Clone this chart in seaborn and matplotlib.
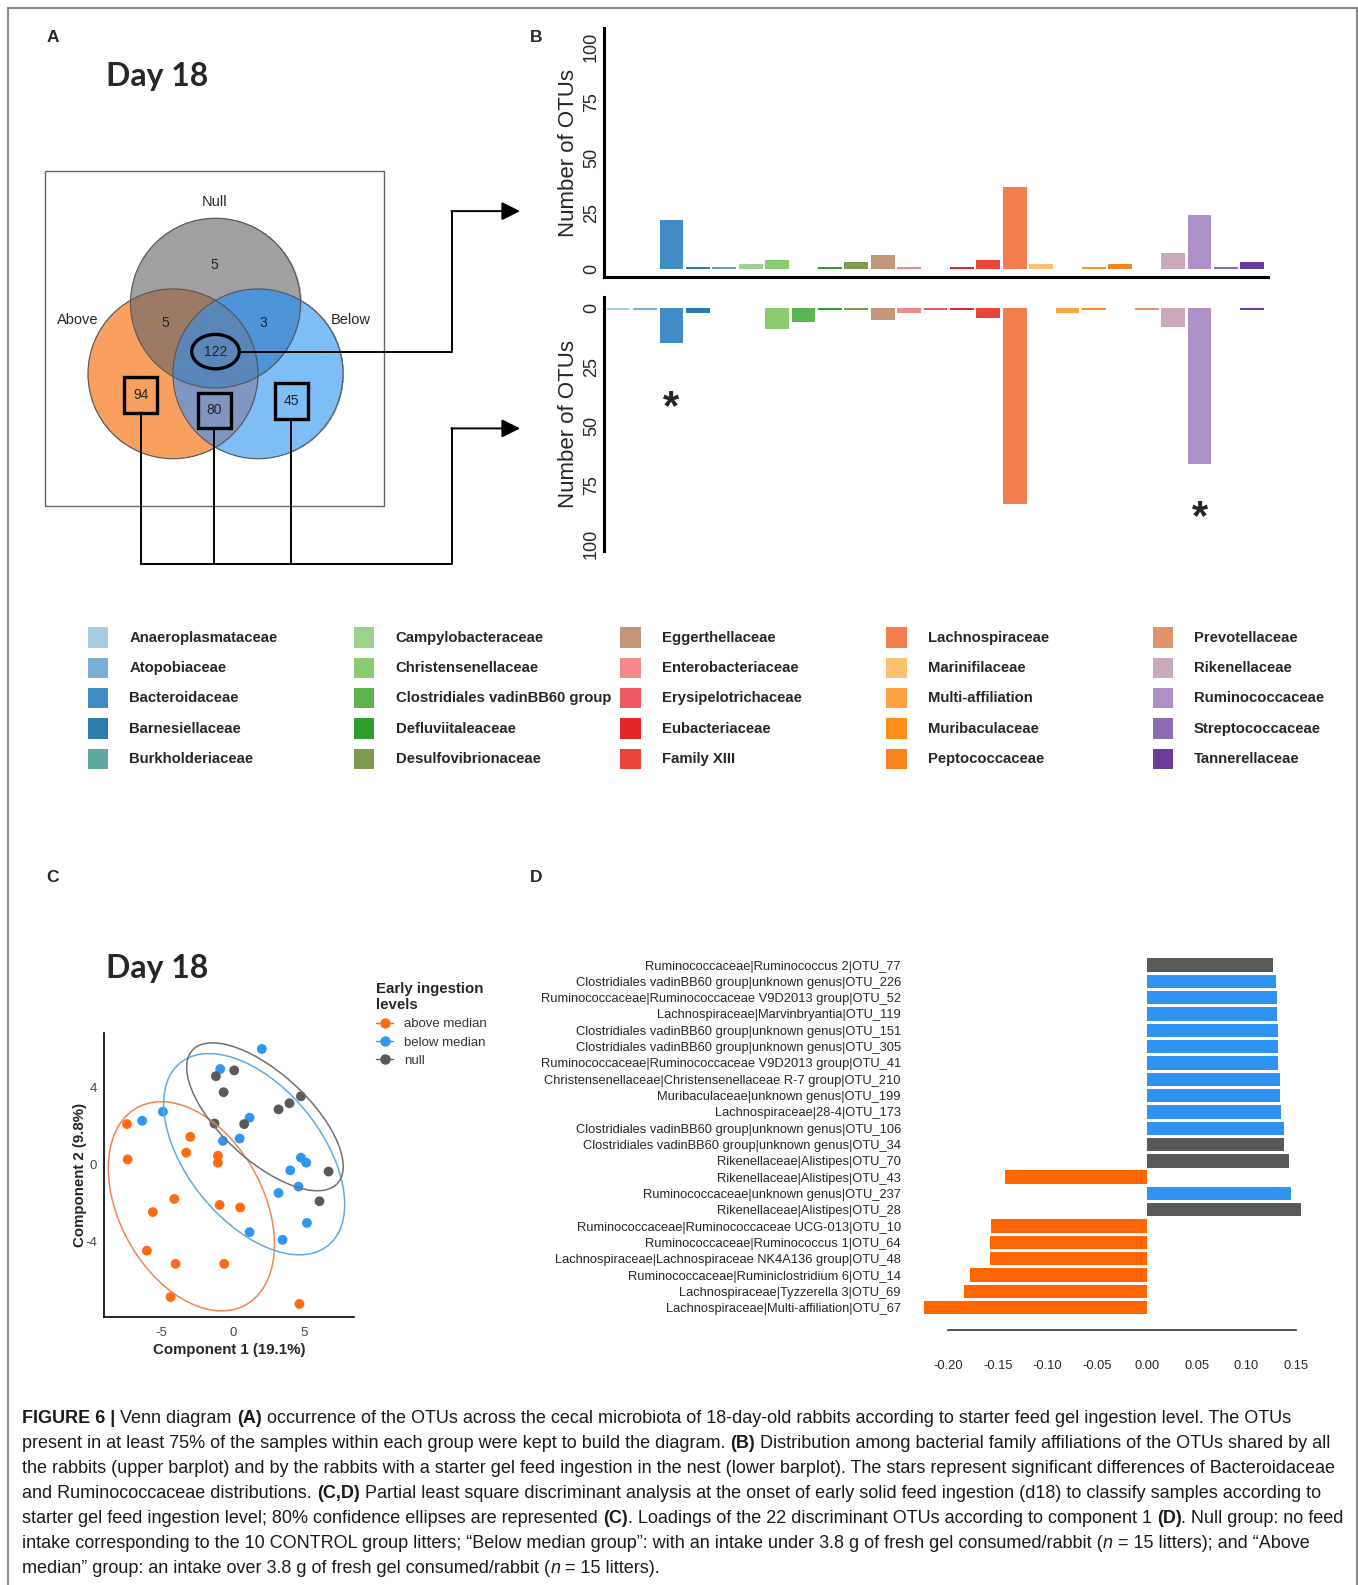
import matplotlib
matplotlib.use("Agg")
import matplotlib.pyplot as plt
from matplotlib.patches import Circle, Ellipse, Rectangle
from matplotlib.lines import Line2D
import numpy as np
import pandas as pd
import seaborn as sns

W, H = 1358, 1585

# ---------------- data ----------------
# panel A (Venn counts)
venn_regions = ["null", "null_above", "null_below", "all", "above", "above_below", "below"]
venn_counts = [5, 5, 3, 122, 94, 80, 45]

# panel B (families, colours, OTU counts)
families = ["Anaeroplasmataceae", "Atopobiaceae", "Bacteroidaceae", "Barnesiellaceae",
            "Burkholderiaceae", "Campylobacteraceae", "Christensenellaceae",
            "Clostridiales vadinBB60 group", "Defluviitaleaceae", "Desulfovibrionaceae",
            "Eggerthellaceae", "Enterobacteriaceae", "Erysipelotrichaceae", "Eubacteriaceae",
            "Family XIII", "Lachnospiraceae", "Marinifilaceae", "Multi-affiliation",
            "Muribaculaceae", "Peptococcaceae", "Prevotellaceae", "Rikenellaceae",
            "Ruminococcaceae", "Streptococcaceae", "Tannerellaceae"]
family_colors = ["#A6CEE3", "#7BAFD6", "#418CC4", "#2D7CB0", "#5FA8A0", "#9ED08E", "#8ACB6F",
                 "#5BB451", "#2E9E2C", "#7D9A4F", "#C3967A", "#F4898B", "#EC5A60", "#E3262A",
                 "#E8453B", "#F27D4F", "#FDBF70", "#FCA443", "#FD8D1D", "#F5841F", "#E3936A",
                 "#CDA8BC", "#AF8FC7", "#8E6BB4", "#6A3D9A"]
shared_all = [0, 0, 22, 1, 1, 2, 4, 0, 1, 3, 6, 1, 0, 1, 4, 37, 2, 0, 1, 2, 0, 7, 24, 1, 3]
shared_fed = [1, 1, 15, 2, 0, 0, 9, 6, 1, 1, 5, 2, 1, 1, 4, 83, 0, 2, 1, 0, 1, 8, 66, 0, 1]
star_families = ["Bacteroidaceae", "Ruminococcaceae"]
star_y = [37, 84]

# panel C (PLS-DA scores)
above_x = [-7.43, -7.38, -2.99, -3.27, -1.05, -1.05, -4.11, -5.61, -0.93, 0.51, -6.03, -4.02, -0.61, -4.37, 4.67]
above_y = [2.09, 0.26, 1.43, 0.61, 0.45, 0.09, -1.79, -2.47, -2.10, -2.23, -4.47, -5.15, -5.15, -6.87, -7.23]
below_x = [2.03, -0.89, -4.91, -6.36, 1.17, -0.70, 0.47, 4.77, 5.14, 4.02, 4.60, 3.20, 5.19, 1.17, 3.48]
below_y = [5.98, 4.94, 2.73, 2.26, 2.42, 1.22, 1.34, 0.35, 0.09, -0.31, -1.15, -1.48, -3.03, -3.51, -3.91]
null_x = [-1.19, 0.09, -0.65, -1.29, 0.79, 3.20, 3.97, 4.77, 6.71, 6.07]
null_y = [4.57, 4.87, 3.74, 2.12, 2.09, 2.85, 3.17, 3.53, -0.37, -1.91]
group_names = ["above median", "below median", "null"]
group_colors = ["#FF6A13", "#2F97F2", "#5A5A5A"]
ellipse_colors = ["#EE8650", "#5FAAE6", "#707070"]

# panel D (loadings on component 1)
otu_labels = ["Ruminococcaceae|Ruminococcus 2|OTU_77",
              "Clostridiales vadinBB60 group|unknown genus|OTU_226",
              "Ruminococcaceae|Ruminococcaceae V9D2013 group|OTU_52",
              "Lachnospiraceae|Marvinbryantia|OTU_119",
              "Clostridiales vadinBB60 group|unknown genus|OTU_151",
              "Clostridiales vadinBB60 group|unknown genus|OTU_305",
              "Ruminococcaceae|Ruminococcaceae V9D2013 group|OTU_41",
              "Christensenellaceae|Christensenellaceae R-7 group|OTU_210",
              "Muribaculaceae|unknown genus|OTU_199",
              "Lachnospiraceae|28-4|OTU_173",
              "Clostridiales vadinBB60 group|unknown genus|OTU_106",
              "Clostridiales vadinBB60 group|unknown genus|OTU_34",
              "Rikenellaceae|Alistipes|OTU_70",
              "Rikenellaceae|Alistipes|OTU_43",
              "Ruminococcaceae|unknown genus|OTU_237",
              "Rikenellaceae|Alistipes|OTU_28",
              "Ruminococcaceae|Ruminococcaceae UCG-013|OTU_10",
              "Ruminococcaceae|Ruminococcus 1|OTU_64",
              "Lachnospiraceae|Lachnospiraceae NK4A136 group|OTU_48",
              "Ruminococcaceae|Ruminiclostridium 6|OTU_14",
              "Lachnospiraceae|Tyzzerella 3|OTU_69",
              "Lachnospiraceae|Multi-affiliation|OTU_67"]
loadings = [0.127, 0.130, 0.131, 0.131, 0.132, 0.132, 0.132, 0.134, 0.134, 0.135, 0.138,
            0.138, 0.143, -0.143, 0.145, 0.155, -0.157, -0.158, -0.158, -0.178, -0.184, -0.224]
otu_group = ["null", "below", "below", "below", "below", "below", "below", "below", "below",
             "below", "below", "null", "null", "above", "below", "null", "above", "above",
             "above", "above", "above", "above"]
load_colors = {"above": "#FF6600", "below": "#2F93F3", "null": "#595959"}
load_ticks = [-0.20, -0.15, -0.10, -0.05, 0.00, 0.05, 0.10, 0.15]

caption = [
    [("FIGURE 6 |", "b"), (" Venn diagram ", "n"), ("(A)", "b"),
     (" occurrence of the OTUs across the cecal microbiota of 18-day-old rabbits according to starter feed gel ingestion level. The OTUs", "n")],
    [("present in at least 75% of the samples within each group were kept to build the diagram. ", "n"), ("(B)", "b"),
     (" Distribution among bacterial family affiliations of the OTUs shared by all", "n")],
    [("the rabbits (upper barplot) and by the rabbits with a starter gel feed ingestion in the nest (lower barplot). The stars represent significant differences of Bacteroidaceae", "n")],
    [("and Ruminococcaceae distributions. ", "n"), ("(C,D)", "b"),
     (" Partial least square discriminant analysis at the onset of early solid feed ingestion (d18) to classify samples according to", "n")],
    [("starter gel feed ingestion level; 80% confidence ellipses are represented ", "n"), ("(C)", "b"),
     (". Loadings of the 22 discriminant OTUs according to component 1 ", "n"), ("(D)", "b"), (". Null group: no feed", "n")],
    [("intake corresponding to the 10 CONTROL group litters; \u201cBelow median group\u201d: with an intake under 3.8 g of fresh gel consumed/rabbit (", "n"),
     ("n", "i"), (" = 15 litters); and \u201cAbove", "n")],
    [("median\u201d group: an intake over 3.8 g of fresh gel consumed/rabbit (", "n"), ("n", "i"), (" = 15 litters).", "n")],
]

# layout units are slightly shrunk relative to output pixels
SX, SY = 1.012, 1.0106


def fx(p):
    return 8 + (p - 8) * SX


def fy(p):
    return 8 + (p - 8) * SY


def px_axes(fig, x0, y0, x1, y1):
    # axes from a layout box (top-left origin)
    X0, Y0, X1, Y1 = fx(x0), fy(y0), fx(x1), fy(y1)
    ax = fig.add_axes([X0 / W, 1 - Y1 / H, (X1 - X0) / W, (Y1 - Y0) / H])
    ax.patch.set_alpha(0)
    return ax


sns.set_style("white")
plt.rcParams['font.family'] = ['Liberation Sans', 'DejaVu Sans']
plt.rcParams['axes.unicode_minus'] = False

fig = plt.figure(figsize=(W / 100, H / 100), dpi=100)
bg = fig.add_axes([0, 0, 1, 1])
bg.axis('off')

# frame
bg.plot([8, 8], [8, 1600], color='#888888', lw=1.5)
bg.plot([1341, 1341], [8, 1600], color='#888888', lw=1.5)
bg.plot([8, 1341], [8, 8], color='#888888', lw=1.5)

for letter, (lx, ly) in zip("ABCD", [(52, 37), (530, 37), (52, 868), (530, 868)]):
    bg.text(lx, ly, letter, fontsize=12.5, fontweight='bold', ha='center', va='center')
for dy in [76, 958]:
    bg.text(155, dy, "Day 18", family=['Lato', 'DejaVu Sans'], fontweight='bold', fontsize=23,
            ha='center', va='center')

# ---------------- panel A : Venn ----------------
r = 84
cn, ca, cb = (213, 300), (171, 370), (255, 370)
xs = np.arange(80, 345) + 0.5
ys = np.arange(210, 460) + 0.5
XX, YY = np.meshgrid(xs, ys)
inN = (XX - cn[0]) ** 2 + (YY - cn[1]) ** 2 <= r ** 2
inA = (XX - ca[0]) ** 2 + (YY - ca[1]) ** 2 <= r ** 2
inB = (XX - cb[0]) ** 2 + (YY - cb[1]) ** 2 <= r ** 2
region_masks = {
    "null": inN & ~inA & ~inB, "null_above": inN & inA & ~inB, "null_below": inN & inB & ~inA,
    "all": inN & inA & inB, "above": inA & ~inN & ~inB, "above_below": inA & inB & ~inN,
    "below": inB & ~inN & ~inA}
region_colors = {"null": "#A0A0A0", "null_above": "#9C7A66", "null_below": "#4F94D8",
                 "all": "#5B86B9", "above": "#F9A060", "above_below": "#8097C0", "below": "#7EBEF6"}
img = np.zeros(XX.shape + (4,))
for reg in venn_regions:
    img[region_masks[reg]] = matplotlib.colors.to_rgba(region_colors[reg])
bg.imshow(img, extent=(80, 345, 460, 210), aspect='auto', interpolation='bilinear', zorder=1)
for c in [cn, ca, cb]:
    bg.add_patch(Circle(c, r, fill=False, ec='#555555', lw=0.8, zorder=2))
bg.add_patch(Rectangle((45, 169), 335, 332, fill=False, ec='#666666', lw=1.0, zorder=2))

bg.text(212, 200, "Null", fontsize=10.5, ha='center', va='center', zorder=3)
bg.text(77, 317, "Above", fontsize=10.5, ha='center', va='center', zorder=3)
bg.text(347, 317, "Below", fontsize=10.5, ha='center', va='center', zorder=3)
num_pos = {"null": (212, 262), "null_above": (163, 320), "null_below": (260, 320),
           "all": (213, 348), "above": (139, 391), "above_below": (212, 406), "below": (288, 397)}
for reg, cnt in zip(venn_regions, venn_counts):
    bg.text(*num_pos[reg], str(cnt), fontsize=10, ha='center', va='center', color='#222222', zorder=4)
bg.add_patch(Ellipse(num_pos["all"], 47, 34, fill=False, ec='black', lw=2.4, zorder=4))
boxed = ["above", "above_below", "below"]
for reg in boxed:
    px, py = num_pos[reg]
    bg.add_patch(Rectangle((px - 16.5, py - 17.5), 33, 35, fill=False, ec='black', lw=2.4, zorder=4))

# connectors
lk = dict(color='black', lw=1.4, zorder=4)
bg.plot([236, 447, 447], [348, 348, 209], **lk)
for reg in boxed:
    px, py = num_pos[reg]
    bg.plot([px, px], [py + 17.5, 558], **lk)
bg.plot([139, 447, 447], [558, 558, 424], **lk)
for ay in [209, 424]:
    bg.annotate('', xy=(514, ay), xytext=(446, ay),
                arrowprops=dict(arrowstyle='-|>', mutation_scale=28, color='black', lw=1.4,
                                shrinkA=0, shrinkB=0), zorder=4)

# ---------------- panel B : bar plots ----------------
df_b = pd.DataFrame({"family": families, "all": shared_all, "fed": shared_fed})
pal = dict(zip(families, family_colors))

ax_t = px_axes(fig, 597, 28, 1253, 274)
sns.barplot(data=df_b, x="family", y="all", hue="family", order=families, hue_order=families,
            palette=pal, saturation=1, width=0.9, linewidth=0, legend=False, ax=ax_t)
ax_b = px_axes(fig, 597, 294, 1253, 545)
sns.barplot(data=df_b, x="family", y="fed", hue="family", order=families, hue_order=families,
            palette=pal, saturation=1, width=0.9, linewidth=0, legend=False, ax=ax_b)

for ax, ylim in [(ax_t, (-3.6, 108.2)), (ax_b, (103, -4.7))]:
    ax.set_xlim(-0.55, 24.59)
    ax.set_ylim(*ylim)
    ax.set_xticks([])
    ax.set_xlabel('')
    ax.set_yticks([0, 25, 50, 75, 100])
    ax.set_yticklabels(['0', '25', '50', '75', '100'], rotation=90, va='center', fontsize=13)
    ax.tick_params(axis='y', length=0, pad=3)
    ax.set_ylabel('Number of OTUs', fontsize=16)
    ax.yaxis.set_label_coords(-0.038, 0.5)
    for s in ['top', 'right']:
        ax.spines[s].set_visible(False)
    ax.spines['left'].set_linewidth(2.2)
    ax.spines['left'].set_color('black')
ax_t.spines['bottom'].set_linewidth(2.2)
ax_t.spines['bottom'].set_color('black')
ax_b.spines['bottom'].set_visible(False)
for fam, sy in zip(star_families, star_y):
    ax_b.annotate('*', xy=(families.index(fam), sy), xytext=(0, -17), textcoords='offset points',
                  fontsize=30, fontweight='bold', ha='center', va='baseline')

# family legend
for i, (fam, col) in enumerate(zip(families, family_colors)):
    lx = 87 + 263 * (i // 5)
    ly = 631 + 30 * (i % 5)
    bg.add_patch(Rectangle((lx, ly - 10), 20, 20, color=col, lw=0))
    bg.text(lx + 41, ly, fam, fontsize=10.7, fontweight='bold', ha='left', va='center')

# ---------------- panel C : PLS-DA scores ----------------
df_c = pd.DataFrame({
    "comp1": above_x + below_x + null_x,
    "comp2": above_y + below_y + null_y,
    "group": [group_names[0]] * len(above_x) + [group_names[1]] * len(below_x) + [group_names[2]] * len(null_x)})
ax_c = px_axes(fig, 103, 1022, 350, 1303)
sns.scatterplot(data=df_c, x="comp1", y="comp2", hue="group", hue_order=group_names,
                palette=dict(zip(group_names, group_colors)), s=50, linewidth=0, legend=False, ax=ax_c)
k = np.sqrt(-2 * np.log(1 - 0.8))
for g, ec in zip(group_names, ellipse_colors):
    sub = df_c[df_c.group == g][["comp1", "comp2"]].to_numpy()
    mu = sub.mean(axis=0)
    vals, vecs = np.linalg.eigh(np.cov(sub.T))
    ang = np.degrees(np.arctan2(vecs[1, 1], vecs[0, 1]))
    ax_c.add_patch(Ellipse(mu, 2 * k * np.sqrt(vals[1]), 2 * k * np.sqrt(vals[0]), angle=ang,
                           fill=False, ec=ec, lw=1.1))
ax_c.set_xlim(-9.03, 8.5)
ax_c.set_ylim(-7.89, 6.82)
ax_c.set_xticks([-5, 0, 5])
ax_c.set_yticks([-4, 0, 4])
ax_c.tick_params(length=3, width=0.8, labelsize=9.5, labelcolor='#444444', color='#444444', pad=2)
ax_c.tick_params(axis='x', pad=4.5)
for s in ['top', 'right']:
    ax_c.spines[s].set_visible(False)
for s in ['left', 'bottom']:
    ax_c.spines[s].set_color('black')
    ax_c.spines[s].set_linewidth(1.2)
ax_c.set_xlabel("Component 1 (19.1%)", fontsize=10.8, fontweight='bold', labelpad=3)
ax_c.set_ylabel("Component 2 (9.8%)", fontsize=10.8, fontweight='bold', labelpad=-1)
handles = [Line2D([0], [0], marker='o', color=c, lw=1, markersize=6.5) for c in group_colors]
leg = fig.legend(handles, group_names, loc='upper left', bbox_to_anchor=(fx(360) / W, 1 - fy(960) / H),
                 frameon=False, fontsize=9.5, handlelength=1.3, labelspacing=0.45,
                 title="Early ingestion\nlevels", alignment='left',
                 title_fontproperties={'weight': 'bold', 'size': 10.8})
for t in leg.get_texts():
    t.set_color('#333333')

# ---------------- panel D : loadings ----------------
df_d = pd.DataFrame({"otu": otu_labels, "loading": loadings, "group": otu_group})
ax_d = px_axes(fig, 900, 945, 1300, 1316)
sns.barplot(data=df_d, x="loading", y="otu", hue="group", palette=load_colors, order=otu_labels,
            dodge=False, orient='h', width=0.82, saturation=1, linewidth=0, legend=False, ax=ax_d)
ax_d.set_xlim(-0.2377, 0.1693)
ax_d.set_ylim(22.36, -0.62)
ax_d.set_xticks(load_ticks)
ax_d.set_xticklabels([f"{v:.2f}" for v in load_ticks])
ax_d.tick_params(axis='x', length=10, width=1.2, direction='out', labelsize=9.3, pad=12, color='#333333')
ax_d.tick_params(axis='y', length=0, labelsize=9.3, pad=7)
for s in ['top', 'right', 'left']:
    ax_d.spines[s].set_visible(False)
ax_d.spines['bottom'].set_bounds(-0.2, 0.15)
ax_d.spines['bottom'].set_color('#333333')
ax_d.spines['bottom'].set_linewidth(1.2)
ax_d.set_xlabel('')
ax_d.set_ylabel('')

# ---------------- caption ----------------
bg.set_xlim(8 - 8 / SX, 8 + (W - 8) / SX)
bg.set_ylim(8 + (H - 8) / SY, 8 - 8 / SY)
renderer = fig.canvas.get_renderer()
cap_size = 13.0


def text_width(s, **kw):
    t = bg.text(0, 0, s, fontsize=cap_size, **kw)
    w = t.get_window_extent(renderer).width / SX
    t.remove()
    return w


space_w = text_width("x x") - text_width("xx")
for i, parts in enumerate(caption):
    cx = 22
    cy = 1408 + 24.8 * i
    for txt, st in parts:
        kw = {}
        if st == 'b':
            kw['fontweight'] = 'bold'
        elif st == 'i':
            kw['fontstyle'] = 'italic'
        lead = len(txt) - len(txt.lstrip(' '))
        trail = len(txt) - len(txt.rstrip(' '))
        cx += lead * space_w
        t = bg.text(cx, cy, txt.strip(' '), fontsize=cap_size, ha='left', va='baseline',
                    color='#1a1a1a', **kw)
        cx += t.get_window_extent(renderer).width / SX + trail * space_w

bg.set_xlim(8 - 8 / SX, 8 + (W - 8) / SX)
bg.set_ylim(8 + (H - 8) / SY, 8 - 8 / SY)
fig.savefig("out.png", dpi=100)
